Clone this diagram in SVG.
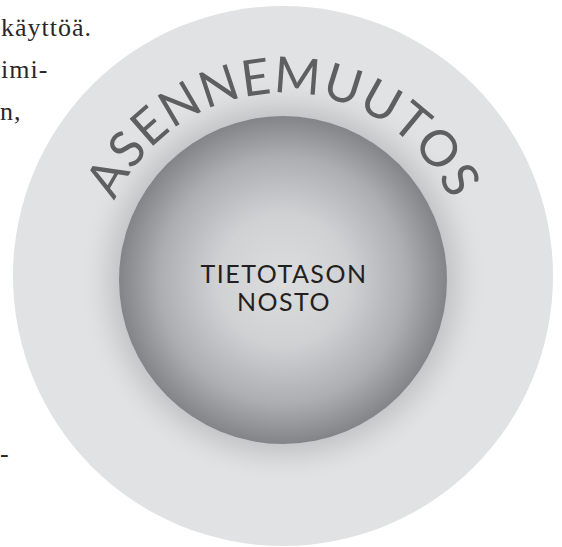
<svg xmlns="http://www.w3.org/2000/svg" width="562" height="547" viewBox="0 0 562 547">
  <style>
    .body { font-family: "Liberation Serif", "DejaVu Serif", serif; font-size: 26px; fill: #2a2728; letter-spacing: 1px; }
    .arc { font-family: "Lato", "Open Sans", "DejaVu Sans", sans-serif; font-size: 50px; fill: #5e5f61; letter-spacing: 1px; }
    .core { font-family: "Lato", "Liberation Sans", "DejaVu Sans", sans-serif; font-size: 25px; fill: #231f20; letter-spacing: 1.5px; }
  </style>
  <defs>
    <radialGradient id="coreFill" cx="283" cy="280" r="164" gradientUnits="userSpaceOnUse">
      <stop offset="0" stop-color="#dcdddf"/>
      <stop offset="0.4" stop-color="#d0d1d3"/>
      <stop offset="0.75" stop-color="#adaeb1"/>
      <stop offset="1" stop-color="#838488"/>
    </radialGradient>
    <radialGradient id="halo" cx="283" cy="280" r="205" gradientUnits="userSpaceOnUse">
      <stop offset="0" stop-color="#c4c5c7"/>
      <stop offset="0.79" stop-color="#c4c5c7"/>
      <stop offset="0.86" stop-color="#d2d3d5"/>
      <stop offset="1" stop-color="#e1e2e4" stop-opacity="0"/>
    </radialGradient>
    <path id="arcPath" d="M 98 278 A 185 185 0 0 1 468 278"/>
  </defs>

  <rect width="562" height="547" fill="#ffffff"/>

  <g id="page-text">
    <text class="body" x="1" y="36">käyttöä.</text>
    <text class="body" x="1" y="78">imi-</text>
    <text class="body" x="0" y="120">n,</text>
    <text class="body" x="0" y="462">-</text>
  </g>

  <g id="asennemuutos">
    <circle cx="283" cy="276" r="270" fill="#e1e2e4"/>
    <circle cx="283" cy="280" r="205" fill="url(#halo)"/>
    <text class="arc"><textPath href="#arcPath" startOffset="50%" text-anchor="middle">ASENNEMUUTOS</textPath></text>
  </g>

  <g id="tietotason-nosto">
    <circle cx="283" cy="280" r="164" fill="url(#coreFill)"/>
    <text class="core" x="284" y="283" text-anchor="middle">TIETOTASON</text>
    <text class="core" x="284" y="311" text-anchor="middle">NOSTO</text>
  </g>

  <g id="connectors"/>
</svg>
